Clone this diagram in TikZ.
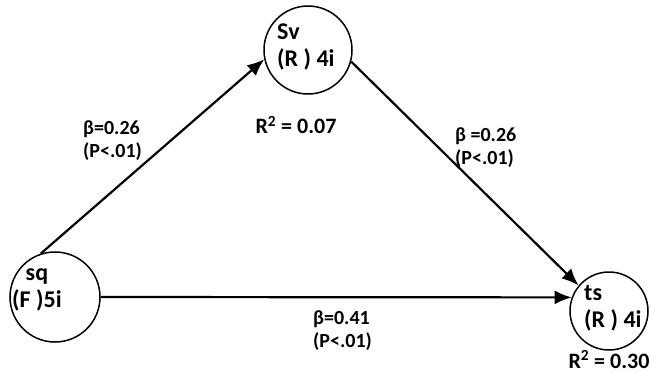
\documentclass[tikz,border=0pt]{standalone}
\usepackage{fontspec}
\setmainfont{Carlito}
\usetikzlibrary{arrows.meta}
\begin{document}
\begin{tikzpicture}[x=1pt, y=-1pt,
        construct/.style={circle, draw, line width=1.5pt, inner sep=0pt},
        inside/.style={anchor=west, align=left, inner sep=0pt, font=\fontsize{24}{27}\selectfont\bfseries},
        path/.style={line width=2.2pt, -{Latex[length=17pt, width=14pt]}},
        coef/.style={anchor=west, align=left, inner sep=0pt, font=\fontsize{20}{23}\selectfont\bfseries},
        rsq/.style={inner sep=0pt, text depth=0pt, font=\fontsize{22}{26}\selectfont\bfseries}
    ]
        \useasboundingbox (0,0) rectangle (650,372);

        % Les construits (cercles)
        \node[construct, minimum size=88pt] (Sv) at (308,50) {};
        \node[construct, minimum size=90pt] (sq) at (55,297) {};
        \node[construct, minimum size=78pt] (ts) at (609,311) {};

        % Textes dans les cercles
        \node[inside] (SvText) at (277,47) {Sv\\(R ) 4i};
        \node[inside, align=center] (sqText) at (12,290) {sq\\(F )5i};
        \node[inside] (tsText) at (584,308) {ts\\(R ) 4i};

        % R carré
        \node[rsq] (R2Sv) at (296,125) {R\textsuperscript{2} = 0.07};
        \node[rsq, anchor=base] (R2ts) at (609,368) {R\textsuperscript{2} = 0.30};

        % Chemins
        \draw[path] (sq.108) to (Sv.192);
        \draw[path] (Sv.-15) to (ts.140);
        \draw[path] (sq.east) to (ts.160);

        % Coefficients
        \node[coef] (Bsq) at (83,141) {β=0.26\\(P<.01)};
        \node[coef] (BSv) at (455,148) {β =0.26\\(P<.01)};
        \node[coef] (Bts) at (313,331) {β=0.41\\(P<.01)};
    \end{tikzpicture}
\end{document}
